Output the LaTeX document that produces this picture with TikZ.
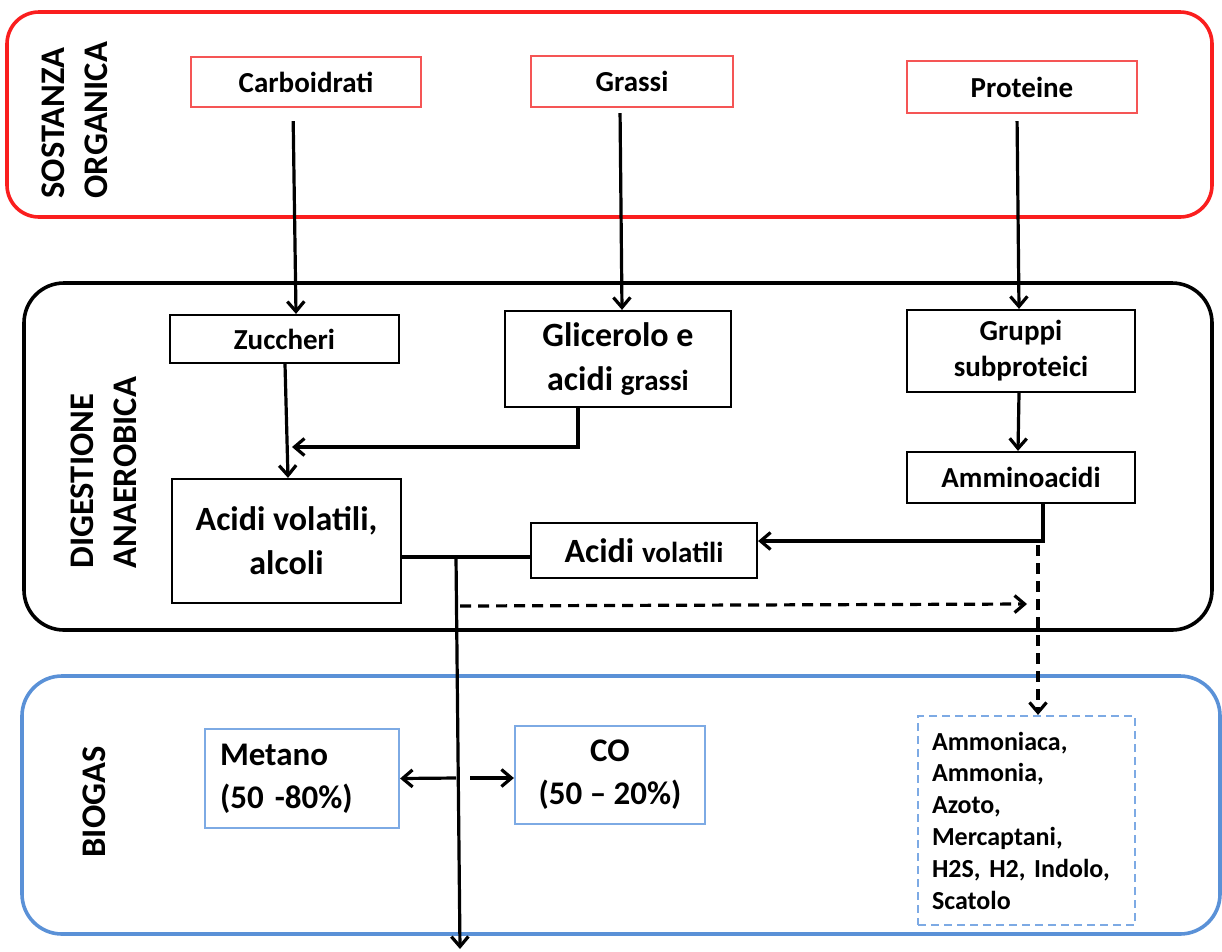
\documentclass[tikz,border=0pt]{standalone}
\usepackage{fontspec}
\setmainfont{Carlito}
\usetikzlibrary{calc,arrows.meta}
\definecolor{orgred}{RGB}{250,30,30}
\definecolor{boxred}{RGB}{245,85,85}
\definecolor{gasblue}{RGB}{90,145,215}
\definecolor{boxblue}{RGB}{125,170,228}
\newcommand{\smalltxt}{\fontsize{29}{36}\selectfont\bfseries}
\newcommand{\bigtxt}{\fontsize{34}{44}\selectfont\bfseries}

\begin{document}
\begin{tikzpicture}[x=1pt,y=-1pt,
	stage/.style={draw, line width=2.2pt, inner sep=0pt, align=center},
	phase/.style={rotate=90, anchor=west, align=left, font=\fontsize{34.5}{43}\selectfont\bfseries},
	flow/.style={line width=3.2pt, -{Straight Barb[length=10pt,width=17pt,line width=3.2pt]}},
	link/.style={line width=3.2pt},
	gasflow/.style={flow, dash pattern=on 11pt off 7pt}]
	\useasboundingbox (0,0) rectangle (1222,951);

	% fasi
	\draw[orgred, line width=3.6pt, rounded corners=32pt] (7,12) rectangle (1212,217);
	\draw[line width=3.6pt, rounded corners=40pt] (24,283) rectangle (1212,630);
	\draw[gasblue, line width=3.6pt, rounded corners=40pt] (22,676) rectangle (1220,934);
	\node[phase] (sost) at (75,202) {SOSTANZA\\ORGANICA};
	\node[phase] (dig) at (104,572) {DIGESTIONE\\ANAEROBICA};
	\node[phase, anchor=center] (bio) at (94,802) {BIOGAS};

	% sostanza organica
	\node[stage, draw=boxred, minimum width=230pt, minimum height=50pt, font=\smalltxt] (carb) at (306,82) {Carboidrati};
	\node[stage, draw=boxred, minimum width=202pt, minimum height=51pt, font=\smalltxt] (grassi) at (632,81.5) {Grassi};
	\node[stage, draw=boxred, minimum width=230pt, minimum height=52pt, font=\smalltxt] (prot) at (1022,87) {Proteine};

	% digestione
	\node[stage, minimum width=229pt, minimum height=48pt, font=\smalltxt] (zucch) at (284.5,339) {Zuccheri};
	\node[stage, minimum width=226pt, minimum height=96pt, font=\bigtxt] (glic) at (618,359) {Glicerolo e\\acidi {\smalltxt grassi}};
	\node[stage, minimum width=228pt, minimum height=82pt, font=\smalltxt] (grup) at (1021,351) {Gruppi\\subproteici};
	\node[stage, minimum width=228pt, minimum height=51pt, font=\smalltxt] (ammino) at (1021,477.5) {Amminoacidi};
	\node[stage, minimum width=229pt, minimum height=124pt, font=\bigtxt] (avalc) at (286.5,541) {Acidi volatili,\\alcoli};
	\node[stage, minimum width=226pt, minimum height=55pt, font=\bigtxt] (avol) at (644,550.5) {Acidi {\smalltxt volatili}};

	% biogas
	\node[stage, draw=boxblue, minimum width=194pt, minimum height=99pt, text width=164pt, align=left, font=\fontsize{33}{43}\selectfont\bfseries] (metano) at (302,778.5) {Metano\\(50 -80\%)};
	\node[stage, draw=boxblue, minimum width=190pt, minimum height=98pt, font=\fontsize{33}{43}\selectfont\bfseries] (co) at (610,775) {CO\\(50 -- 20\%)};
	\node[stage, draw=boxblue, dash pattern=on 8pt off 5pt, minimum width=217pt, minimum height=209pt, text width=189pt, align=left, font=\fontsize{26}{31.8}\selectfont\bfseries] (gas) at (1026.5,820.5) {Ammoniaca,\\Ammonia,\\Azoto,\\Mercaptani,\\H2S, H2, Indolo,\\Scatolo};

	\coordinate (j1) at (292,447);
	\coordinate (j2) at (456,557);
	\coordinate (j3) at (1038,545);
	\coordinate (d1) at (460,606);
	\coordinate (d2) at (1027,604);
	\coordinate (m1) at (456,778);
	\coordinate (m2) at (470,778);
	\coordinate (out) at (460,949);

	\draw[flow, shorten <=13pt] ($(carb.south)+(-13,0)$) -- ($(zucch.north)+(11.5,0)$);
	\draw[flow, shorten <=5pt] ($(grassi.south)+(-12,0)$) -- ($(glic.north)+(4,0)$);
	\draw[flow, shorten <=7pt] ($(prot.south)+(-5,0)$) -- ($(grup.north)+(-2,0)$);
	\draw[flow] ($(zucch.south)+(0.5,0)$) -- ($(avalc.north)+(1.5,0)$);
	\draw[flow] ($(glic.south)+(-40,0)$) |- (j1);
	\draw[flow] ($(grup.south)+(-2,0)$) -- ($(ammino.north)+(-3,0)$);
	\draw[flow] ($(ammino.south)+(22,0)$) |- ($(avol.east)+(0,-9.5)$);
	\draw[link] ($(avalc.east)+(0,16)$) -- ($(avol.west)+(0,6.5)$);
	\draw[flow] (j2) -- (out);
	\draw[flow] (m1) -- (metano.east);
	\draw[flow] (m2) -- ($(co.west)+(0,3)$);
	\draw[gasflow] (d1) -- (d2);
	\draw[gasflow] (j3) -- ($(gas.north)+(11.5,0)$);
\end{tikzpicture}
\end{document}
